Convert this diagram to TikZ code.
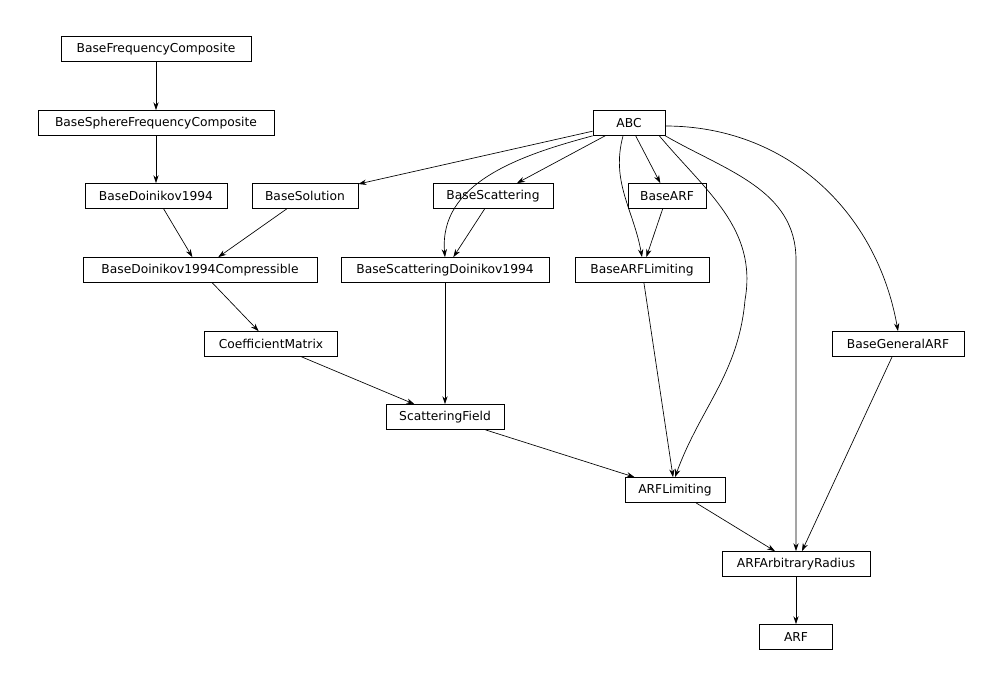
\documentclass[tikz,border=0pt]{standalone}
\usepackage{fontspec}
\setmainfont{DejaVu Sans}
\usetikzlibrary{arrows.meta}
\begin{document}
\begin{tikzpicture}[x=0.75pt,y=-0.75pt,
  cls/.style={draw,line width=0.5pt,minimum height=18.75pt,inner sep=0pt,font=\fontsize{9.2}{10}\selectfont},
  e/.style={-{Stealth[length=6pt,width=4pt]},line width=0.5pt}]
\useasboundingbox (0,0) rectangle (1003,689);
\node[cls,minimum width=142.5pt] (bfc) at (156,49) {BaseFrequencyComposite};
\node[cls,minimum width=177pt] (bsfc) at (156,123) {BaseSphereFrequencyComposite};
\node[cls,minimum width=54pt] (abc) at (629,123) {ABC};
\node[cls,minimum width=106.5pt] (bd) at (156,196) {BaseDoinikov1994};
\node[cls,minimum width=79.5pt] (bsol) at (305,196) {BaseSolution};
\node[cls,minimum width=90pt] (bsc) at (493,196) {BaseScattering};
\node[cls,minimum width=58.5pt] (barf) at (667,196) {BaseARF};
\node[cls,minimum width=175.5pt] (bdc) at (200,270) {BaseDoinikov1994Compressible};
\node[cls,minimum width=156pt] (bsd) at (445,270) {BaseScatteringDoinikov1994};
\node[cls,minimum width=100.5pt] (barfl) at (642,270) {BaseARFLimiting};
\node[cls,minimum width=99.75pt] (cm) at (271,344) {CoefficientMatrix};
\node[cls,minimum width=99pt] (bgarf) at (898,344) {BaseGeneralARF};
\node[cls,minimum width=88.5pt] (sf) at (445,417) {ScatteringField};
\node[cls,minimum width=75pt] (arfl) at (675,490) {ARFLimiting};
\node[cls,minimum width=111pt] (arfar) at (796,564) {ARFArbitraryRadius};
\node[cls,minimum width=54.75pt] (arf) at (796,637) {ARF};
\draw[e] (bfc) -- (bsfc);
\draw[e] (bsfc) -- (bd);
\draw[e] (bd) -- (bdc);
\draw[e] (bsol) -- (bdc);
\draw[e] (bdc) -- (cm);
\draw[e] (cm) -- (sf);
\draw[e] (bsd) -- (sf);
\draw[e] (bsc) -- (bsd);
\draw[e] (barf) -- (barfl);
\draw[e] (barfl) -- (arfl);
\draw[e] (sf) -- (arfl);
\draw[e] (arfl) -- (arfar);
\draw[e] (bgarf) -- (arfar);
\draw[e] (arfar) -- (arf);
\draw[e] (abc) -- (bsol);
\draw[e] (abc) -- (bsc);
\draw[e] (abc) -- (barf);
\draw[e] (abc.south west) to[out=-165,in=95] (bsd.north);
\draw[e] (abc.south) ++(-6,0) to[out=-105,in=100] (barfl.north);
\draw[e] (abc.south east) ++(-6,0) to[out=-50,in=80] (745,300) to[out=-95,in=70] (arfl.north);
\draw[e] (abc.south east) to[out=-30,in=90] (796,260) -- (arfar.north);
\draw[e] (abc.east) ++(0,3) to[out=0,in=100] (bgarf.north);
\end{tikzpicture}
\end{document}
